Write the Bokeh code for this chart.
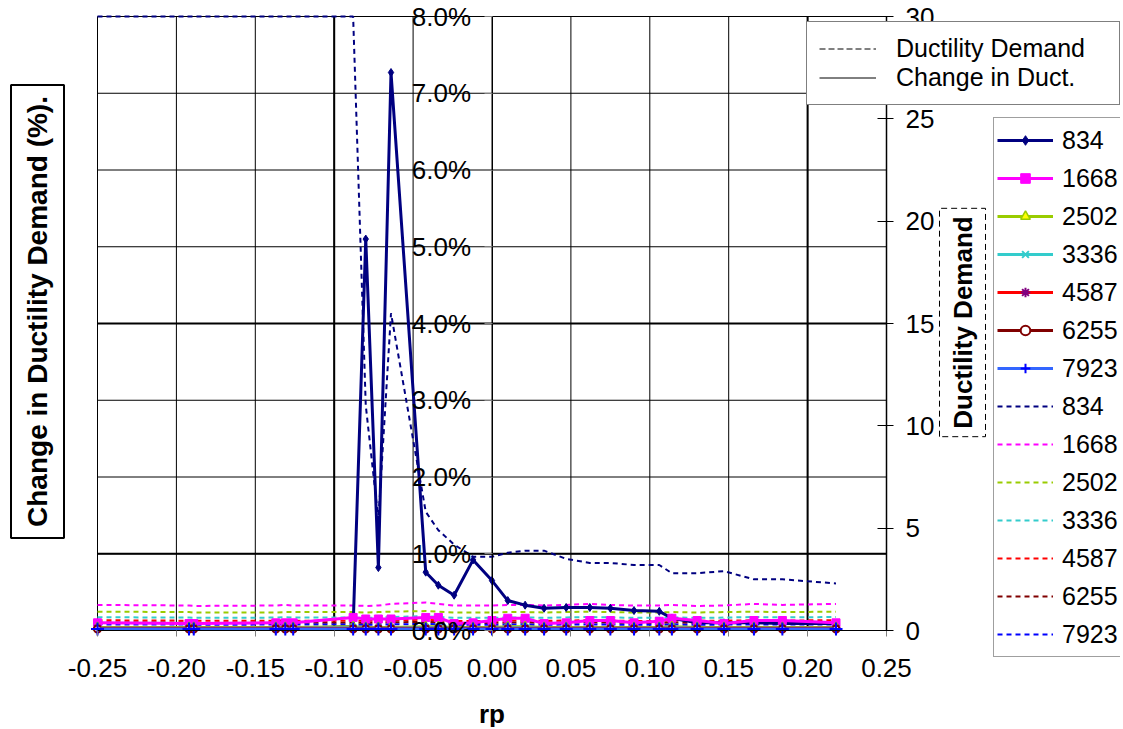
from bokeh.plotting import figure
from bokeh.models import (Range1d, LinearAxis, FixedTicker, NumeralTickFormatter,
                          PrintfTickFormatter, Legend, LegendItem, Label)
from bokeh.embed import file_html
from bokeh.resources import INLINE

# ---------------- data ----------------
rp = [-0.250, -0.192, -0.189, -0.137, -0.131, -0.126, -0.088, -0.080, -0.072, -0.064,
      -0.042, -0.034, -0.024, -0.012, 0.000, 0.010, 0.021, 0.033, 0.047, 0.062,
      0.075, 0.090, 0.106, 0.114, 0.130, 0.147, 0.166, 0.184, 0.218]

series_names = ["834", "1668", "2502", "3336", "4587", "6255", "7923"]

# change in ductility demand (%)
chg_834 = [0.03, 0.03, 0.03, 0.03, 0.03, 0.03, 0.05, 5.10, 0.82, 7.27,
           0.76, 0.59, 0.46, 0.92, 0.65, 0.39, 0.33, 0.29, 0.30, 0.30,
           0.29, 0.26, 0.25, 0.16, 0.10, 0.10, 0.10, 0.09, 0.09]
chg_1668 = [0.10, 0.09, 0.09, 0.10, 0.10, 0.10, 0.17, 0.15, 0.15, 0.15,
            0.17, 0.17, 0.09, 0.10, 0.13, 0.16, 0.16, 0.09, 0.10, 0.13,
            0.13, 0.10, 0.12, 0.16, 0.13, 0.09, 0.13, 0.13, 0.10]
chg_2502 = [0.04, 0.04, 0.04, 0.04, 0.04, 0.04, 0.05, 0.04, 0.04, 0.04,
            0.05, 0.05, 0.04, 0.04, 0.04, 0.05, 0.05, 0.04, 0.04, 0.04,
            0.04, 0.04, 0.04, 0.05, 0.04, 0.04, 0.04, 0.04, 0.04]
chg_3336 = [0.03, 0.03, 0.03, 0.03, 0.03, 0.03, 0.04, 0.03, 0.03, 0.03,
            0.04, 0.04, 0.03, 0.03, 0.03, 0.04, 0.04, 0.03, 0.03, 0.03,
            0.03, 0.03, 0.03, 0.04, 0.03, 0.03, 0.03, 0.03, 0.03]
chg_4587 = [0.03, 0.03, 0.03, 0.03, 0.03, 0.03, 0.03, 0.03, 0.03, 0.03,
            0.03, 0.03, 0.03, 0.03, 0.03, 0.03, 0.03, 0.03, 0.03, 0.03,
            0.03, 0.03, 0.03, 0.03, 0.03, 0.03, 0.03, 0.03, 0.03]
chg_6255 = [0.02, 0.02, 0.02, 0.02, 0.02, 0.02, 0.02, 0.02, 0.02, 0.02,
            0.02, 0.02, 0.02, 0.02, 0.02, 0.02, 0.02, 0.02, 0.02, 0.02,
            0.02, 0.02, 0.02, 0.02, 0.02, 0.02, 0.02, 0.02, 0.02]
chg_7923 = [0.02, 0.02, 0.02, 0.02, 0.02, 0.02, 0.02, 0.02, 0.02, 0.02,
            0.02, 0.02, 0.02, 0.02, 0.02, 0.02, 0.02, 0.02, 0.02, 0.02,
            0.02, 0.02, 0.02, 0.02, 0.02, 0.02, 0.02, 0.02, 0.02]

# ductility demand (secondary axis)
dd_834 = [30, 30, 30, 30, 30, 30, 30, 11.0, 5.4, 15.5,
          5.8, 4.9, 4.2, 3.6, 3.6, 3.8, 3.9, 3.9, 3.5, 3.3,
          3.3, 3.2, 3.2, 2.8, 2.8, 2.9, 2.5, 2.5, 2.3]
dd_1668 = [1.25, 1.22, 1.20, 1.22, 1.25, 1.22, 1.22, 1.20, 1.22, 1.30,
           1.37, 1.30, 1.22, 1.22, 1.22, 1.25, 1.25, 1.22, 1.25, 1.30,
           1.25, 1.22, 1.22, 1.25, 1.20, 1.22, 1.30, 1.25, 1.30]
dd_2502 = [0.92, 0.90, 0.88, 0.88, 0.90, 0.90, 0.90, 0.88, 0.90, 0.92,
           0.95, 0.92, 0.88, 0.88, 0.88, 0.90, 0.90, 0.88, 0.90, 0.92,
           0.90, 0.88, 0.88, 0.90, 0.88, 0.90, 0.92, 0.90, 0.92]
dd_3336 = [0.65, 0.63, 0.62, 0.63, 0.65, 0.63, 0.63, 0.62, 0.63, 0.66,
           0.70, 0.66, 0.62, 0.62, 0.62, 0.64, 0.64, 0.62, 0.64, 0.66,
           0.64, 0.62, 0.62, 0.64, 0.62, 0.63, 0.66, 0.64, 0.66]
dd_4587 = [0.50, 0.48, 0.47, 0.48, 0.50, 0.48, 0.48, 0.47, 0.48, 0.50,
           0.53, 0.50, 0.47, 0.47, 0.47, 0.49, 0.49, 0.47, 0.49, 0.50,
           0.49, 0.47, 0.47, 0.49, 0.47, 0.48, 0.50, 0.49, 0.50]
dd_6255 = [0.40, 0.38, 0.37, 0.38, 0.40, 0.38, 0.38, 0.37, 0.38, 0.40,
           0.42, 0.40, 0.37, 0.37, 0.37, 0.39, 0.39, 0.37, 0.39, 0.40,
           0.39, 0.37, 0.37, 0.39, 0.37, 0.38, 0.40, 0.39, 0.40]
dd_7923 = [0.30, 0.29, 0.28, 0.29, 0.30, 0.29, 0.29, 0.28, 0.29, 0.30,
           0.32, 0.30, 0.28, 0.28, 0.28, 0.29, 0.29, 0.28, 0.29, 0.30,
           0.29, 0.28, 0.28, 0.29, 0.28, 0.29, 0.30, 0.29, 0.30]

x_ticks = [-0.25, -0.20, -0.15, -0.10, -0.05, 0.0, 0.05, 0.10, 0.15, 0.20, 0.25]
y_ticks = [0, 1, 2, 3, 4, 5, 6, 7, 8]
y2_ticks = [0, 5, 10, 15, 20, 25, 30]
x_bold = [-0.10, 0.20]
y_bold = [1, 4]

chg_all = [chg_834, chg_1668, chg_2502, chg_3336, chg_4587, chg_6255, chg_7923]
dd_all = [dd_834, dd_1668, dd_2502, dd_3336, dd_4587, dd_6255, dd_7923]

# ---------------- layout ----------------
W, H = 1120, 727
PL, PR, PT, PB = 97, 886, 16, 630          # plot-area box in pixels
XMIN, XMAX, YMIN, YMAX, Y2MAX = -0.25, 0.25, 0.0, 8.0, 30.0
kx = (XMAX - XMIN) / (PR - PL)
ky = (YMAX - YMIN) / (PB - PT)
ky2 = Y2MAX / (PB - PT)


def px_x(px):
    return XMIN + (px - PL) * kx


def px_y(py):
    return YMIN + (PB - py) * ky


FONT = "Liberation Sans"
solid_colors = ["#000080", "#FF00FF", "#99CC00", "#33CCCC", "#FF0000", "#800000", "#3366FF"]
dot_colors = ["#000080", "#FF00FF", "#99CC00", "#33CCCC", "#FF0000", "#800000", "#0000FF"]
markers = [
    dict(marker="diamond", size=8, fill_color="#000080", line_color="#000080", line_width=1),
    dict(marker="square", size=8, fill_color="#FF00FF", line_color="#FF00FF", line_width=1),
    dict(marker="triangle", size=9, fill_color="#FFFF00", line_color="#99CC00", line_width=1.5),
    dict(marker="x", size=9, fill_color=None, line_color="#33CCCC", line_width=2),
    dict(marker="asterisk", size=9, fill_color=None, line_color="#800080", line_width=2),
    dict(marker="circle", size=7, fill_color="white", line_color="#800000", line_width=2),
    dict(marker="cross", size=13, fill_color=None, line_color="#0000FF", line_width=2),
]

p = figure(width=W, height=H, output_backend="svg", toolbar_location=None,
           x_range=Range1d(px_x(0), px_x(W)), y_range=Range1d(px_y(H), px_y(0)),
           min_border_left=0, min_border_right=0, min_border_top=0, min_border_bottom=0,
           background_fill_color="white", border_fill_color="white")
p.outline_line_color = None
p.extra_y_ranges = {"dd": Range1d(-(H - PB) * ky2, Y2MAX + PT * ky2)}
p.xgrid.visible = False
p.ygrid.visible = False

# grid lines of the plot area (bounded to the plot box)
p.segment(x0=x_ticks, y0=[YMIN] * len(x_ticks), x1=x_ticks, y1=[YMAX] * len(x_ticks),
          line_color="black", line_width=1)
p.segment(x0=[XMIN] * len(y_ticks), y0=y_ticks, x1=[XMAX] * len(y_ticks), y1=y_ticks,
          line_color="black", line_width=1)
p.segment(x0=x_bold, y0=[YMIN] * 2, x1=x_bold, y1=[YMAX] * 2, line_color="black", line_width=2)
p.segment(x0=[XMIN] * 2, y0=y_bold, x1=[XMAX] * 2, y1=y_bold, line_color="black", line_width=2)

# x axis
xa = p.below[0]
xa.fixed_location = 0
xa.bounds = (XMIN, XMAX)
xa.ticker = FixedTicker(ticks=x_ticks)
xa.formatter = NumeralTickFormatter(format="0.00")
xa.major_label_text_font = FONT
xa.major_label_text_font_size = "26px"
xa.major_label_text_color = "black"
xa.axis_line_color = "black"
xa.major_tick_line_color = "#808080"
xa.major_tick_out = 6
xa.major_tick_in = 0
xa.minor_tick_line_color = None
xa.major_label_standoff = 22

# primary y axis at x = 0
ya = p.left[0]
ya.fixed_location = 0
ya.bounds = (YMIN, YMAX)
ya.ticker = FixedTicker(ticks=y_ticks)
ya.formatter = PrintfTickFormatter(format="%.1f%%")
ya.major_label_text_font = FONT
ya.major_label_text_font_size = "26px"
ya.major_label_text_color = "black"
ya.axis_line_color = "black"
ya.major_tick_line_color = "#808080"
ya.major_tick_out = 8
ya.major_tick_in = 0
ya.minor_tick_line_color = None
ya.major_label_standoff = 13

# secondary y axis at the right edge of the plot area
ya2 = LinearAxis(y_range_name="dd", ticker=FixedTicker(ticks=y2_ticks), fixed_location=XMAX,
                 bounds=(0, Y2MAX))
ya2.major_label_text_font = FONT
ya2.major_label_text_font_size = "26px"
ya2.major_label_text_color = "black"
ya2.axis_line_color = "black"
ya2.axis_line_width = 1.5
ya2.major_tick_line_color = "black"
ya2.major_tick_in = 9
ya2.major_tick_out = 7
ya2.minor_tick_line_color = None
ya2.major_label_standoff = 12
p.add_layout(ya2, "right")

# ---------------- series ----------------
solid_items = []
dot_items = []
dot_renderers = []
for i in range(7):
    r = p.line(rp, dd_all[i], y_range_name="dd", line_color=dot_colors[i],
               line_width=2, line_dash="5 4")
    dot_renderers.append(r)
for i in range(7):
    lr = p.line(rp, chg_all[i], line_color=solid_colors[i], line_width=3)
    sr = p.scatter(rp, chg_all[i], **markers[i])
    solid_items.append(LegendItem(label=series_names[i], renderers=[lr, sr]))
for i in range(7):
    dot_items.append(LegendItem(label=series_names[i], renderers=[dot_renderers[i]]))

leg2 = Legend(items=solid_items + dot_items, location=(993, H - 657),
              glyph_width=56, glyph_height=24, label_height=38, label_width=56, spacing=0,
              padding=3, margin=0, label_standoff=9,
              border_line_color="#404040", border_line_width=1,
              background_fill_color="white", background_fill_alpha=1,
              label_text_font=FONT, label_text_font_size="25px", label_text_color="black")
p.add_layout(leg2, "center")

# line-style key (sample lines lie outside the visible ranges)
d1 = p.line([10, 11], [100, 100], line_color="black", line_width=1, line_dash="6 3")
d2 = p.line([10, 11], [100, 100], line_color="black", line_width=1)
leg1 = Legend(items=[LegendItem(label="Ductility Demand", renderers=[d1]),
                     LegendItem(label="Change in Duct.", renderers=[d2])],
              location=(806, H - 105), glyph_width=57, glyph_height=27, label_height=27,
              label_width=211, spacing=0, padding=12, margin=0, label_standoff=20,
              border_line_color="black", border_line_width=1,
              background_fill_color="white", background_fill_alpha=1,
              label_text_font=FONT, label_text_font_size="25px", label_text_color="black")
p.add_layout(leg1, "center")

# axis titles
p.add_layout(Label(x=px_x(37), y=px_y(311), text="Change in Ductility Demand (%).", angle=90,
                   angle_units="deg", text_align="center", text_baseline="middle",
                   text_font=FONT, text_font_size="28px", text_font_style="bold",
                   text_color="black", border_line_color="black", border_line_width=2,
                   background_fill_color="white", padding=11))
p.add_layout(Label(x=px_x(962), y=px_y(322), text="Ductility Demand", angle=90,
                   angle_units="deg", text_align="center", text_baseline="middle",
                   text_font=FONT, text_font_size="26px", text_font_style="bold",
                   text_color="black", border_line_color="black", border_line_width=1,
                   border_line_dash="6 4", background_fill_color="white", padding=8))
p.add_layout(Label(x=0.0, y=px_y(713), text="rp", text_align="center", text_baseline="middle",
                   text_font=FONT, text_font_size="26px", text_font_style="bold",
                   text_color="black"))

open("out.html", "w").write(file_html(p, INLINE))
